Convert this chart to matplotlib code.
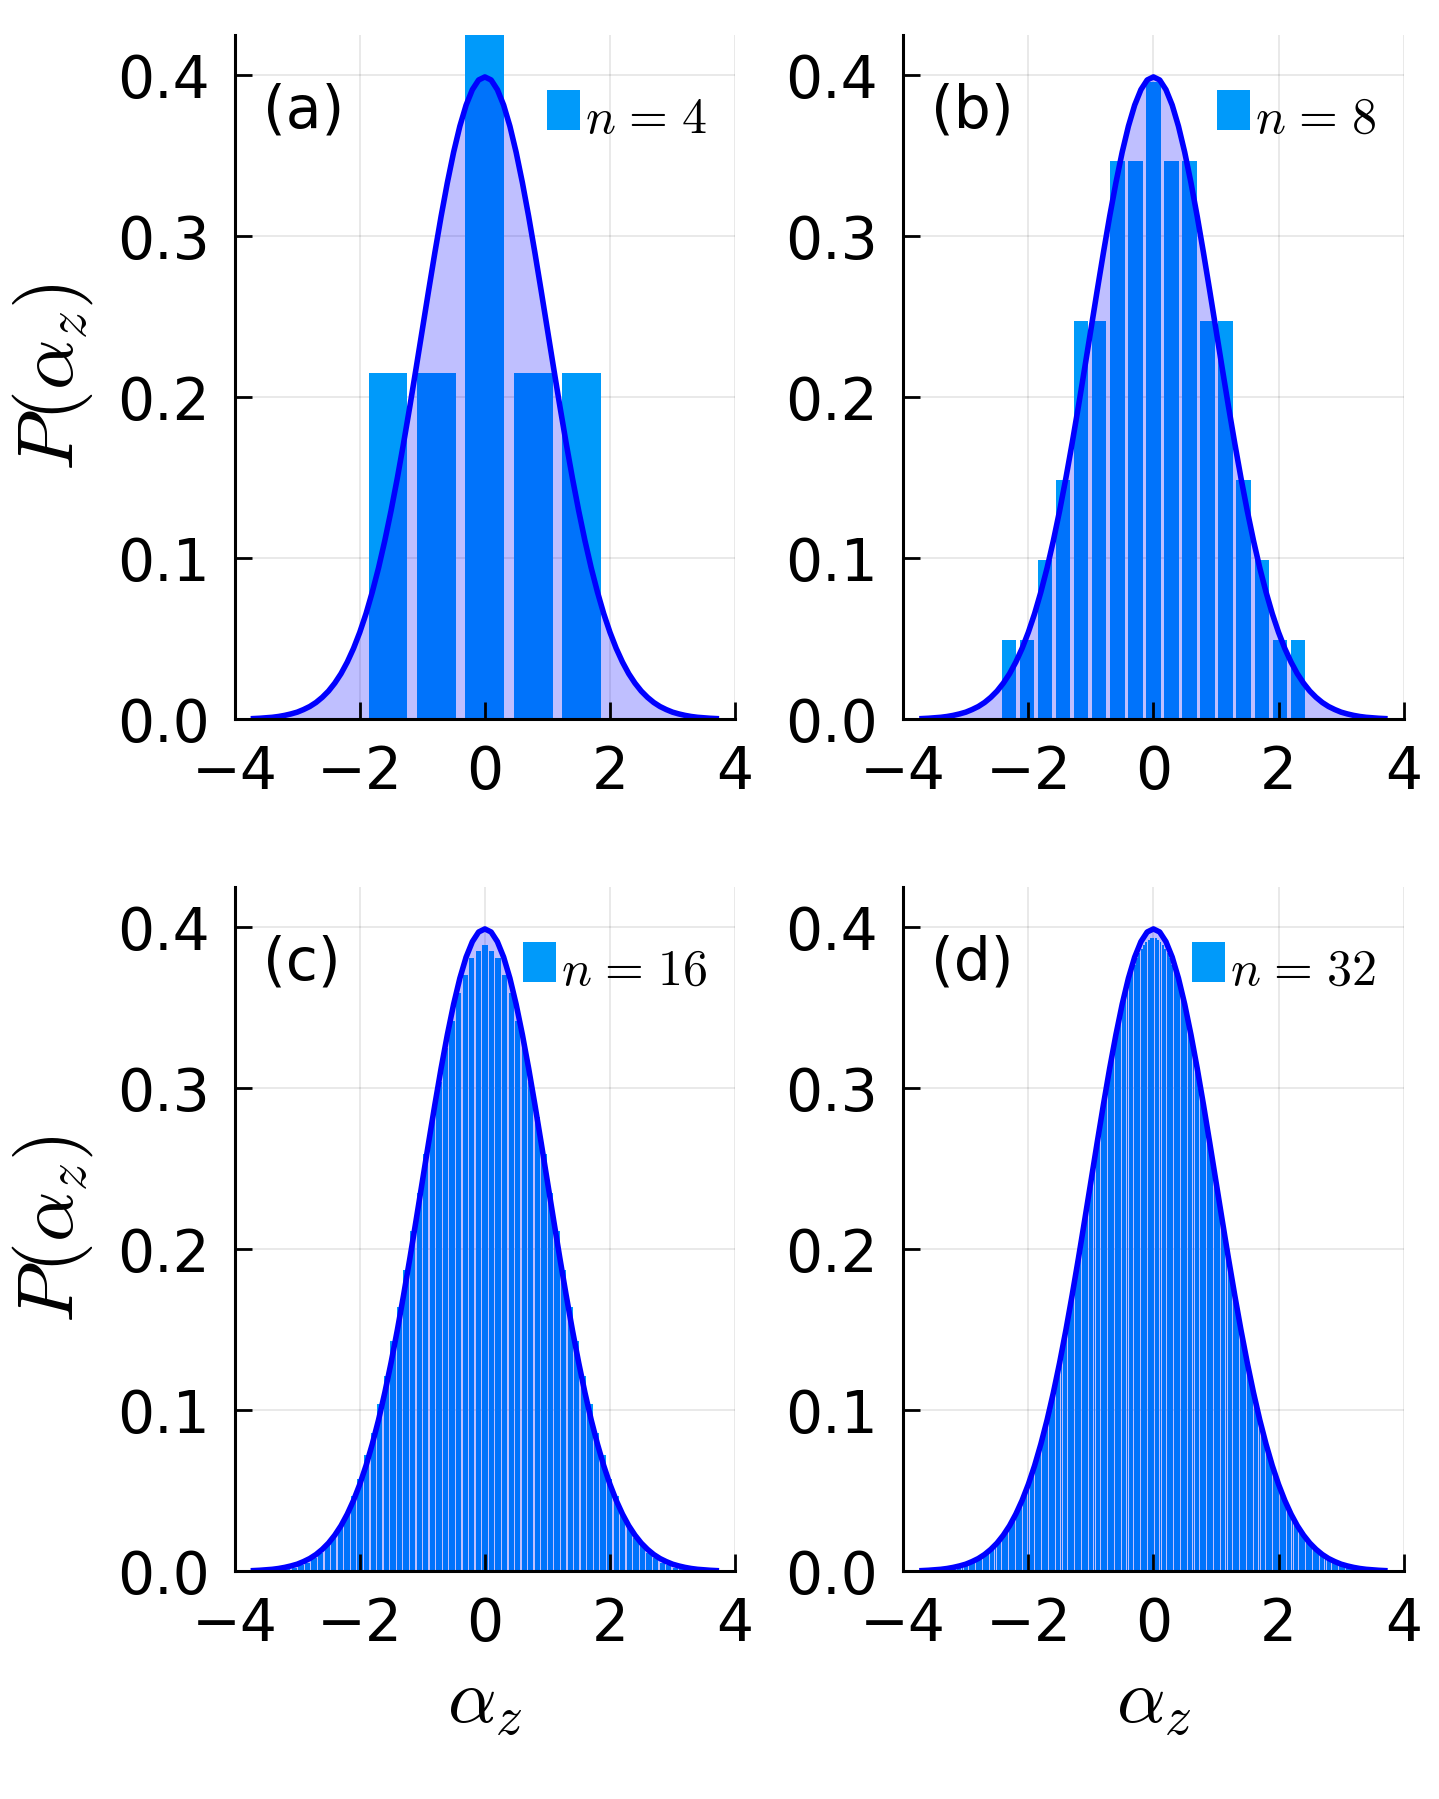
import numpy as np
import matplotlib
matplotlib.use("Agg")
import matplotlib.pyplot as plt
from matplotlib.ticker import FormatStrFormatter

# spacing between neighbouring alpha_z values for each n
step_a = 0.7746
step_b = 0.2887
step_c = 0.10502
step_d = 0.037689

n_values = [4, 8, 16, 32]
tags = ['(a)', '(b)', '(c)', '(d)']

# P(alpha_z), left to right
p_a = [0.2152, 0.2152, 0.4303, 0.2152, 0.2152]

p_b = [0.0495, 0.0495, 0.0990, 0.1485, 0.2474, 0.2474, 0.3464, 0.3464, 0.3959,
       0.3464, 0.3464, 0.2474, 0.2474, 0.1485, 0.0990, 0.0495, 0.0495]

p_c = [0.0007, 0.0007, 0.0015, 0.0022, 0.0037, 0.0052, 0.0081, 0.0111, 0.0163, 0.0207,
       0.0281, 0.0355, 0.047, 0.057, 0.072, 0.086, 0.104, 0.121, 0.143, 0.164,
       0.187, 0.211, 0.235, 0.259, 0.282, 0.304, 0.325, 0.342, 0.359, 0.370,
       0.381, 0.385,
       0.389,
       0.385, 0.381,
       0.370, 0.359, 0.342, 0.325, 0.304, 0.282, 0.259, 0.235, 0.211, 0.187,
       0.164, 0.143, 0.121, 0.104, 0.086, 0.072, 0.057, 0.047, 0.0355, 0.0281,
       0.0207, 0.0163, 0.0111, 0.0081, 0.0052, 0.0037, 0.0022, 0.0015, 0.0007, 0.0007]

p_d = [0.0006, 0.0007, 0.0009, 0.0010, 0.0012, 0.0014, 0.0016, 0.0018, 0.0021, 0.0024,
       0.0028, 0.0032, 0.0036, 0.0041, 0.0047, 0.0053, 0.0059, 0.0067, 0.0075, 0.0084,
       0.0094, 0.0105, 0.0117, 0.0130, 0.0145, 0.0160, 0.0177, 0.0196, 0.0216, 0.0237,
       0.0260, 0.0285, 0.0312, 0.0340, 0.0371, 0.0403, 0.0438, 0.0475, 0.0514, 0.0555,
       0.0599, 0.0645, 0.0694, 0.0745, 0.0798, 0.0854, 0.0913, 0.0974, 0.1037, 0.1103,
       0.1171, 0.1241, 0.1314, 0.1388, 0.1465, 0.1544, 0.1624, 0.1706, 0.1790, 0.1875,
       0.1961, 0.2048, 0.2136, 0.2224, 0.2313, 0.2401, 0.2490, 0.2578, 0.2666, 0.2752,
       0.2838, 0.2922, 0.3004, 0.3084, 0.3163, 0.3238, 0.3311, 0.3381, 0.3448, 0.3511,
       0.3571, 0.3626, 0.3678, 0.3725, 0.3768, 0.3806, 0.3839, 0.3867, 0.3891, 0.3909,
       0.3922, 0.3930,
       0.3933,
       0.3930, 0.3922,
       0.3909, 0.3891, 0.3867, 0.3839, 0.3806, 0.3768, 0.3725, 0.3678, 0.3626, 0.3571,
       0.3511, 0.3448, 0.3381, 0.3311, 0.3238, 0.3163, 0.3084, 0.3004, 0.2922, 0.2838,
       0.2752, 0.2666, 0.2578, 0.2490, 0.2401, 0.2313, 0.2224, 0.2136, 0.2048, 0.1961,
       0.1875, 0.1790, 0.1706, 0.1624, 0.1544, 0.1465, 0.1388, 0.1314, 0.1241, 0.1171,
       0.1103, 0.1037, 0.0974, 0.0913, 0.0854, 0.0798, 0.0745, 0.0694, 0.0645, 0.0599,
       0.0555, 0.0514, 0.0475, 0.0438, 0.0403, 0.0371, 0.0340, 0.0312, 0.0285, 0.0260,
       0.0237, 0.0216, 0.0196, 0.0177, 0.0160, 0.0145, 0.0130, 0.0117, 0.0105, 0.0094,
       0.0084, 0.0075, 0.0067, 0.0059, 0.0053, 0.0047, 0.0041, 0.0036, 0.0032, 0.0028,
       0.0024, 0.0021, 0.0018, 0.0016, 0.0014, 0.0012, 0.0010, 0.0009, 0.0007, 0.0006]

# gaussian reference curve, sampled every 0.1 from -3.7 to 3.7
curve_x = np.arange(-37, 38) / 10.0
curve_p = [0.0004, 0.0006, 0.0009, 0.0012, 0.0017, 0.0024, 0.0033, 0.0044, 0.0060, 0.0079,
           0.0104, 0.0136, 0.0175, 0.0224, 0.0283, 0.0355, 0.0440, 0.0540, 0.0656, 0.0790,
           0.0940, 0.1109, 0.1295, 0.1497, 0.1714, 0.1942, 0.2179, 0.2420, 0.2661, 0.2897,
           0.3123, 0.3332, 0.3521, 0.3683, 0.3814, 0.3910, 0.3970,
           0.3989,
           0.3970, 0.3910, 0.3814, 0.3683, 0.3521, 0.3332, 0.3123, 0.2897, 0.2661, 0.2420,
           0.2179, 0.1942, 0.1714, 0.1497, 0.1295, 0.1109, 0.0940, 0.0790, 0.0656, 0.0540,
           0.0440, 0.0355, 0.0283, 0.0224, 0.0175, 0.0136, 0.0104, 0.0079, 0.0060, 0.0044,
           0.0033, 0.0024, 0.0017, 0.0012, 0.0009, 0.0006, 0.0004]

plt.rcParams['font.family'] = ['DejaVu Sans']
plt.rcParams['mathtext.fontset'] = 'cm'

BAR_COLOR = '#009AFA'
GRID_COLOR = (0, 0, 0, 0.1)

fig = plt.figure(figsize=(14.3901, 17.9901), dpi=100)

axes_rects = [[0.1631, 0.6002, 0.3477, 0.3804],
              [0.6277, 0.6002, 0.3477, 0.3804],
              [0.1631, 0.1266, 0.3477, 0.3804],
              [0.6277, 0.1266, 0.3477, 0.3804]]

hists = [p_a, p_b, p_c, p_d]
steps = [step_a, step_b, step_c, step_d]

for i, rect in enumerate(axes_rects):
    ax = fig.add_axes(rect)
    heights = np.array(hists[i])
    centers = (np.arange(len(heights)) - (len(heights) - 1) / 2) * steps[i]

    # TeX-like spacing around the equals sign
    label = r'$n\hspace{0.11}=\hspace{0.11}%d$' % n_values[i]
    ax.bar(centers, heights, width=0.8 * steps[i], color=BAR_COLOR, linewidth=0,
           zorder=1, label=label)
    ax.fill_between(curve_x, 0, curve_p, color='blue', alpha=0.25, linewidth=0, zorder=1.5)
    ax.plot(curve_x, curve_p, color='blue', lw=4.0, zorder=2)

    ax.set_xlim(-4, 4)
    ax.set_ylim(0, 0.425)
    ax.set_xticks([-4, -2, 0, 2, 4])
    ax.set_yticks([0.0, 0.1, 0.2, 0.3, 0.4])
    ax.yaxis.set_major_formatter(FormatStrFormatter('%.1f'))

    # light grid under the data, ticks stay on top
    for gx in [-4, -2, 0, 2, 4]:
        ax.axvline(gx, color=GRID_COLOR, lw=1.2, zorder=0.5)
    for gy in [0.1, 0.2, 0.3, 0.4]:
        ax.axhline(gy, color=GRID_COLOR, lw=1.2, zorder=0.5)

    for side in ['top', 'right']:
        ax.spines[side].set_visible(False)
    for side in ['left', 'bottom']:
        ax.spines[side].set_linewidth(2.2)
    ax.tick_params(direction='in', length=12, width=2, pad=18, labelsize=42)

    ax.text(0.056, 0.889, tags[i], transform=ax.transAxes, fontsize=42,
            ha='left', va='center')

    leg = ax.legend(loc='upper right', bbox_to_anchor=(0.944, 0.9207), frameon=False,
                    fontsize=36, handlelength=0.66, handleheight=0.85, handletextpad=0.1,
                    borderpad=0, borderaxespad=0)
    # the label baseline sits a little below the swatch in the original
    for t in leg.get_texts():
        t.set_y(-6)

    if i % 2 == 0:
        ax.set_ylabel(r'$P(\alpha_z)$', fontsize=57, rotation=90, va='center', ha='center')
        ax.yaxis.set_label_coords(-0.3632, 0.5)
    if i >= 2:
        ax.set_xlabel(r'$\alpha_z$', fontsize=55, va='baseline')
        ax.xaxis.set_label_coords(0.5, -0.2217)

fig.savefig('out.png', dpi=100)
